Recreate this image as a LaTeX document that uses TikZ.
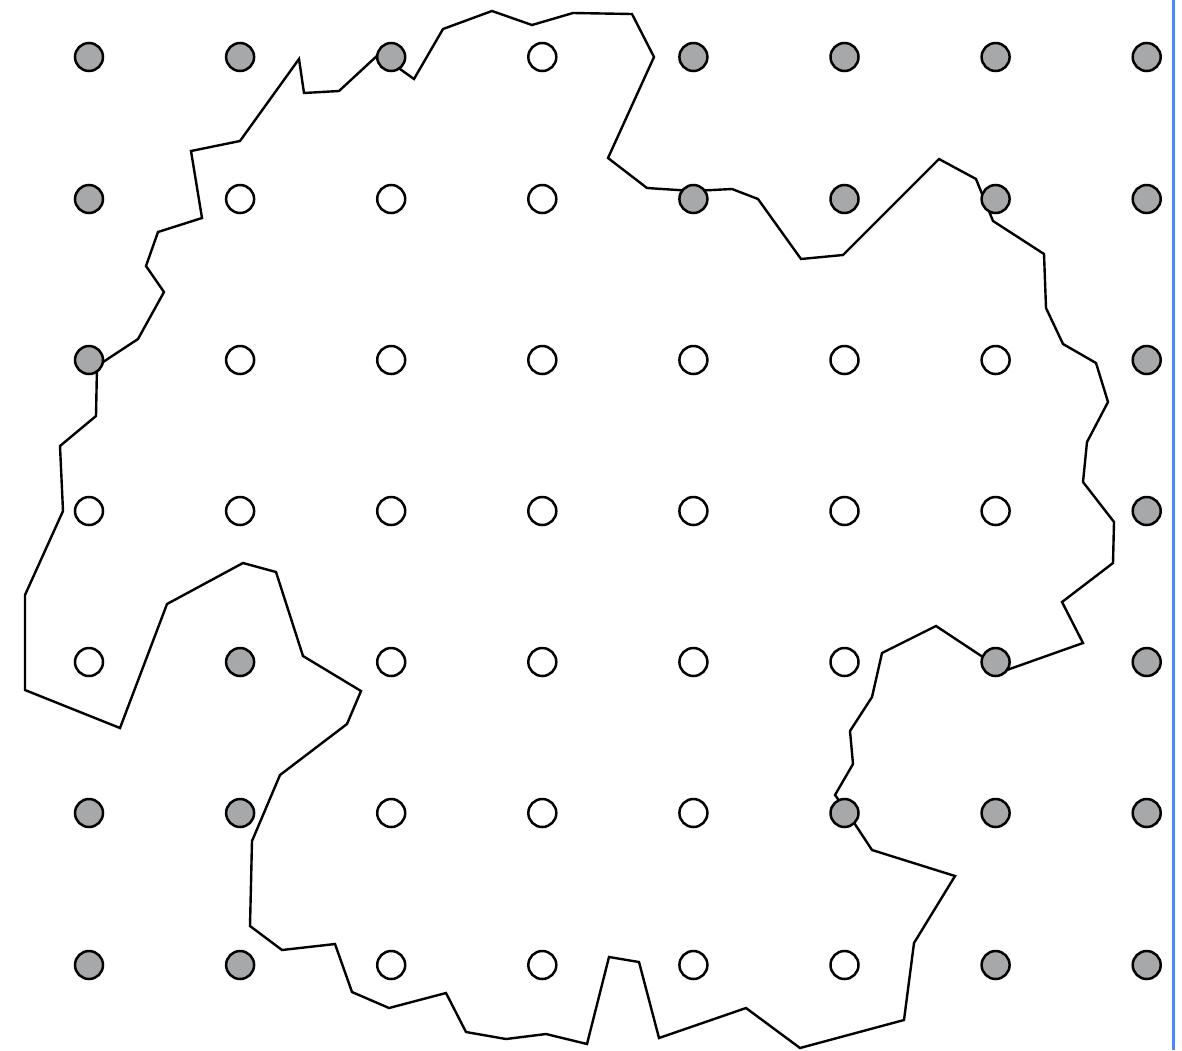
\documentclass[tikz,border=0pt]{standalone}
\usetikzlibrary{calc}
\definecolor{dotgray}{HTML}{A7A8A9}
\definecolor{edgeblue}{HTML}{4A86FF}
\begin{document}
\begin{tikzpicture}[x=1pt,y=-1pt,
  dot/.style={circle,draw=black,line width=2.5pt,minimum size=28pt,inner sep=0pt},
  full/.style={dot,fill=dotgray},
  empty/.style={dot,fill=white},
  outline/.style={draw=black,line width=2.4pt,line join=miter}]
\useasboundingbox (0,0) rectangle (1182,1050);
\fill[white] (0,0) rectangle (1182,1050);
% blue edge line
\coordinate (bt) at (1173.5,0);
\coordinate (bb) at (1173.5,1050);
\draw[edgeblue,line width=2.6pt] (bt) -- (bb);
% region outline
\draw[outline] (97,366) -- (138,339) -- (164,292) -- (146,266) -- (158,232) -- (202,218)
 -- (191,151) -- (240,141) -- (299,59) -- (304,93) -- (339,91) -- (379,54) -- (414,79)
 -- (443,29) -- (492,11) -- (532,25) -- (573,13) -- (632,14) -- (654,57) -- (608,158)
 -- (647,188) -- (693,191) -- (732,189) -- (758,199) -- (801,259) -- (843,255)
 -- (939,159) -- (976,179) -- (993,221) -- (1044,254) -- (1046,308) -- (1063,344)
 -- (1096,363) -- (1108,402) -- (1087,442) -- (1083,482) -- (1114,522) -- (1113,563)
 -- (1062,602) -- (1083,643) -- (1004,671) -- (936,626) -- (882,653) -- (872,697)
 -- (850,731) -- (853,764) -- (835,795) -- (843,806) -- (872,850) -- (955,876)
 -- (914,943) -- (904,1020) -- (800,1048) -- (746,1008) -- (659,1038) -- (639,962)
 -- (609,957) -- (587,1044) -- (546,1034) -- (506,1039) -- (466,1032) -- (446,993)
 -- (389,1008) -- (352,992) -- (335,944) -- (282,950) -- (250,926) -- (252,841)
 -- (280,775) -- (347,724) -- (361,691) -- (303,656) -- (276,572) -- (243,563)
 -- (167,604) -- (120,728) -- (25,690) -- (25,595) -- (63,511) -- (60,446)
 -- (96,416) -- cycle;
% grid of dots
\foreach \r/\y/\pat in {0/57/{1,1,1,0,1,1,1,1},1/199/{1,0,0,0,1,1,1,1},
  2/360/{1,0,0,0,0,0,0,1},3/511/{0,0,0,0,0,0,0,1},4/662/{0,1,0,0,0,0,1,1},
  5/813/{1,1,0,0,0,1,1,1},6/965/{1,1,0,0,0,0,1,1}}{
  \foreach \f [count=\c from 0] in \pat {
    \pgfmathsetmacro{\xx}{89+151.1*\c}
    \ifnum\f=1
      \node[full] (d\r-\c) at (\xx,\y) {};
    \else
      \node[empty] (d\r-\c) at (\xx,\y) {};
    \fi
  }
}
\end{tikzpicture}
\end{document}
